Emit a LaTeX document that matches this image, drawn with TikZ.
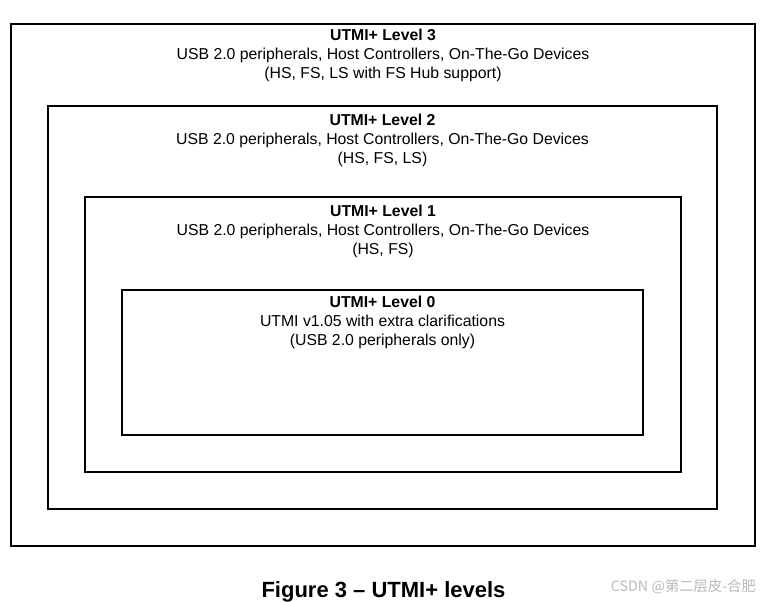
\documentclass[tikz,border=0pt]{standalone}
\usepackage{fontspec}
\setmainfont{Liberation Sans}
\newfontfamily\cjk{Noto Sans CJK SC}
\usetikzlibrary{positioning}

\begin{document}
\begin{tikzpicture}[x=1pt, y=-1pt,
    levelbox/.style={draw, line width=2.6pt, inner sep=0pt},
    leveltext/.style={anchor=north, align=center, inner sep=0pt,
        font=\fontsize{15.8}{19}\selectfont}]
    % Canvas
    \useasboundingbox (0,0) rectangle (764,602);

    % Nested level boxes
    \node[levelbox, minimum width=744pt, minimum height=522pt] (lvlthree) at (383,285) {};
    \node[levelbox, minimum width=669pt, minimum height=403pt] (lvltwo) at (382.5,307.5) {};
    \node[levelbox, minimum width=596pt, minimum height=275pt] (lvlone) at (383,334.5) {};
    \node[levelbox, minimum width=521pt, minimum height=145pt] (lvlzero) at (382.5,362.5) {};

    % Level descriptions
    \node[leveltext, below=6.5pt of lvlthree.north] (txtthree)
        {\textbf{UTMI+ Level 3}\\USB 2.0 peripherals, Host Controllers, On-The-Go Devices\\(HS, FS, LS with FS Hub support)};
    \node[leveltext, below=9pt of lvltwo.north] (txttwo)
        {\textbf{UTMI+ Level 2}\\USB 2.0 peripherals, Host Controllers, On-The-Go Devices\\(HS, FS, LS)};
    \node[leveltext, below=9.5pt of lvlone.north] (txtone)
        {\textbf{UTMI+ Level 1}\\USB 2.0 peripherals, Host Controllers, On-The-Go Devices\\(HS, FS)};
    \node[leveltext, below=7.5pt of lvlzero.north] (txtzero)
        {\textbf{UTMI+ Level 0}\\UTMI v1.05 with extra clarifications\\(USB 2.0 peripherals only)};

    % Caption and watermark
    \node[font=\bfseries\fontsize{22}{26}\selectfont, inner sep=0pt] (caption) at (383.5,591.5) {Figure 3 – UTMI+ levels};
    \node[font=\cjk\fontsize{14.3}{17}\selectfont, text=gray!55, inner sep=0pt, anchor=east] (mark) at (756,587) {CSDN @第二层皮-合肥};
\end{tikzpicture}
\end{document}
